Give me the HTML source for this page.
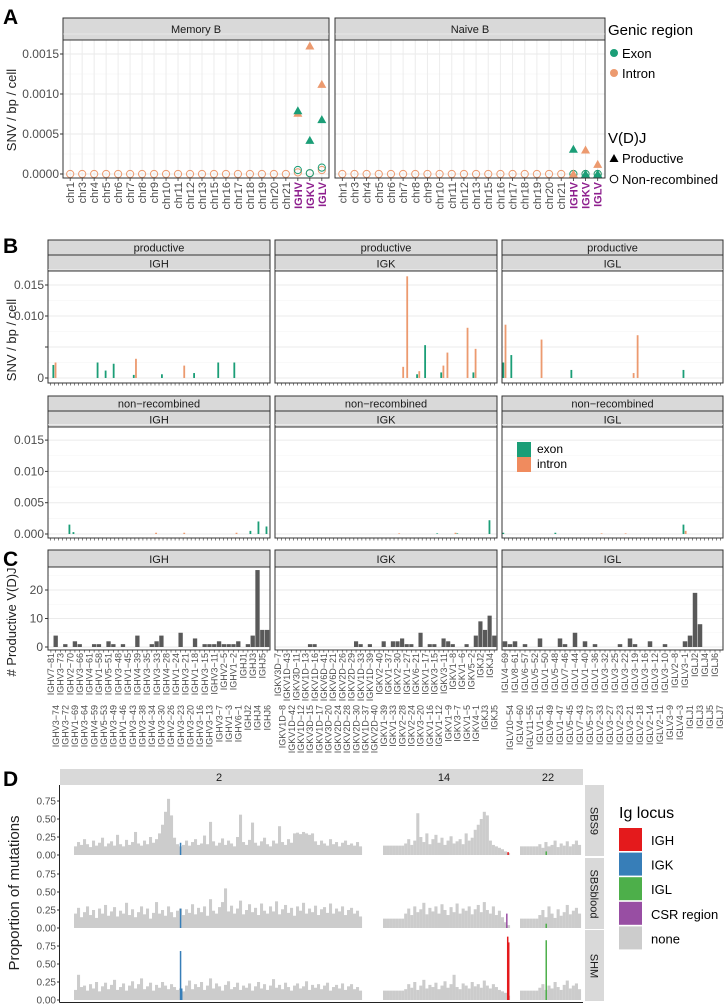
<!DOCTYPE html>
<html><head><meta charset="utf-8"><style>
html,body{margin:0;padding:0;background:#fff;}
svg{display:block;font-family:"Liberation Sans",sans-serif;}
</style></head><body>
<svg id="fig" width="727" height="1006" viewBox="0 0 727 1006"></svg>
<script>
// ---------- Panel A data ----------
const aCats = ['chr1','chr3','chr4','chr5','chr6','chr7','chr8','chr9','chr10','chr11','chr12','chr13','chr15','chr16','chr17','chr18','chr19','chr20','chr21','IGHV','IGKV','IGLV'];
const aChrZero = [0,0,0,0,0,0,0,0,0,0,0,0,0,0,0,0,0,0,0];
const memProdExon = [0.00079,0.00042,0.00068];
const memProdIntron = [0.00076,0.0016,0.00112];
const memNonExon = [0.00005,0.00001,0.00008];
const memNonIntron = [0.00002,0.00001,0.00005];
const naiProdExon = [0.00031,0.0,0.0];
const naiProdIntron = [0.0,0.0003,0.00012];
const naiNonExon = [0,0,0];
const naiNonIntron = [0,0,0];
const aTicks = [0,0.0005,0.001,0.0015];
const aTickLabels = ['0.0000','0.0005','0.0010','0.0015'];

// ---------- Panel B data ----------
const bN = [55,55,55];
const bProdExonIdx = [[1,12,14,16,21,28,36,42,46],[35,37,41,49],[0,2,17,45]];
const bProdExonVal = [[0.0021,0.0025,0.0012,0.0023,0.0005,0.0006,0.0008,0.0025,0.0025],[0.0006,0.0053,0.0009,0.0009],[0.0025,0.0037,0.0013,0.0013]];
const bProdIntronIdx = [[1,21,33],[31,32,35,41,42,47,49],[0,9,32,33]];
const bProdIntronVal = [[0.0025,0.0031,0.002],[0.0018,0.0164,0.0011,0.002,0.0041,0.0081,0.0047],[0.0086,0.0062,0.0008,0.0069]];
const bNonExonIdx = [[5,6,50,52,54],[53,40,45],[45,0,13]];
const bNonExonVal = [[0.0015,0.0003,0.0005,0.002,0.0012],[0.0022,0.0001,0.0001],[0.0015,0.0002,0.0002]];
const bNonIntronIdx = [[26,33,46],[30,44],[45,24,30]];
const bNonIntronVal = [[0.0002,0.0002,0.0002],[0.0001,0.0002],[0.0005,0.0001,0.0001]];
const bTicks1 = [0,0.010,0.015];
const bTickLabels1 = ['0','0.010','0.015'];
const bTicks2 = [0,0.005,0.010,0.015];
const bTickLabels2 = ['0.000','0.005','0.010','0.015'];

// ---------- Panel C data ----------
const cIGHr1 = ['IGHV7−81','IGHV3−73','IGHV2−70','IGHV3−66','IGHV4−61','IGHV1−58','IGHV5−51','IGHV3−48','IGHV1−45','IGHV4−39','IGHV3−35','IGHV3−33','IGHV4−28','IGHV1−24','IGHV3−21','IGHV1−18','IGHV3−15','IGHV3−11','IGHV2−5','IGHV1−2','IGHJ1','IGHJ3','IGHJ5'];
const cIGHr2 = ['IGHV3−74','IGHV3−72','IGHV1−69','IGHV3−64','IGHV4−59','IGHV5−53','IGHV3−49','IGHV1−46','IGHV3−43','IGHV3−38','IGHV4−34','IGHV3−30','IGHV2−26','IGHV3−23','IGHV3−20','IGHV3−16','IGHV3−13','IGHV3−7','IGHV1−3','IGHV6−1','IGHJ2','IGHJ4','IGHJ6'];
const cIGKr1 = ['IGKV3D−7','IGKV1D−43','IGKV3D−11','IGKV1D−13','IGKV1D−16','IGKV6D−41','IGKV6D−21','IGKV2D−26','IGKV2D−29','IGKV1D−33','IGKV1D−39','IGKV2−40','IGKV1−37','IGKV2−30','IGKV1−27','IGKV6−21','IGKV1−17','IGKV3−15','IGKV3−11','IGKV1−8','IGKV1−6','IGKV5−2','IGKJ2','IGKJ4'];
const cIGKr2 = ['IGKV1D−8','IGKV1D−42','IGKV1D−12','IGKV3D−15','IGKV1D−17','IGKV3D−20','IGKV2D−24','IGKV2D−28','IGKV2D−30','IGKV1D−37','IGKV2D−40','IGKV1−39','IGKV1−33','IGKV2−28','IGKV2−24','IGKV3−20','IGKV1−16','IGKV1−12','IGKV1−9','IGKV3−7','IGKV1−5','IGKV4−1','IGKJ3','IGKJ5'];
const cIGLr1 = ['IGLV4−69','IGLV8−61','IGLV6−57','IGLV5−52','IGLV1−50','IGLV5−48','IGLV7−46','IGLV1−44','IGLV1−40','IGLV1−36','IGLV3−32','IGLV3−25','IGLV3−22','IGLV3−19','IGLV3−16','IGLV3−12','IGLV3−10','IGLV2−8','IGLV3−1','IGLJ2','IGLJ4','IGLJ6'];
const cIGLr2 = ['IGLV10−54','IGLV4−60','IGLV11−55','IGLV1−51','IGLV9−49','IGLV1−47','IGLV5−45','IGLV7−43','IGLV5−37','IGLV2−33','IGLV3−27','IGLV2−23','IGLV3−21','IGLV2−18','IGLV2−14','IGLV2−11','IGLV3−9','IGLV4−3','IGLJ1','IGLJ3','IGLJ5','IGLJ7'];
const cIGHidx = [1,3,5,6,9,10,12,13,15,18,21,22,23,27,30,32,33,34,35,36,37,38,39,41,42,43,44,45];
const cIGHval = [4,1,2,1,1,1,2,1,1,4,1,2,4,5,3,1,1,1,2,1,1,1,2,1,4,27,6,6];
const cIGKidx = [7,8,17,18,20,23,25,26,27,28,29,31,33,34,36,37,38,41,43,44,45,46,47];
const cIGKval = [1,1,2,1,1,2,2,2,3,1,1,5,1,1,3,2,1,1,4,9,6,11,4];
const cIGLidx = [0,1,2,4,7,11,12,14,16,18,23,25,26,29,32,36,37,38,39];
const cIGLval = [2,1,2,1,3,3,1,5,2,1,1,3,1,2,1,2,4,19,8];
const cTicks = [0,10,20];

// ---------- Panel D data ----------
const dRows = ['SBS9','SBSblood','SHM'];
const dChrs = ['2','14','22'];
const sbs9_2 = [0.12,0.18,0.14,0.22,0.15,0.11,0.2,0.13,0.17,0.24,0.12,0.16,0.19,0.13,0.28,0.15,0.12,0.21,0.14,0.18,0.32,0.16,0.13,0.2,0.15,0.25,0.17,0.22,0.3,0.42,0.6,0.78,0.55,0.24,0.15,0.12,0.14,0.2,0.13,0.18,0.22,0.14,0.16,0.27,0.15,0.46,0.19,0.13,0.17,0.23,0.14,0.2,0.16,0.12,0.25,0.56,0.18,0.14,0.21,0.45,0.17,0.13,0.19,0.24,0.15,0.12,0.2,0.16,0.4,0.18,0.14,0.22,0.17,0.3,0.31,0.29,0.32,0.3,0.28,0.3,0.19,0.14,0.2,0.16,0.13,0.22,0.15,0.18,0.12,0.17,0.2,0.14,0.16,0.13,0.18,0.12];
const sbs9_14 = [0.13,0.13,0.13,0.13,0.13,0.13,0.13,0.16,0.22,0.14,0.2,0.58,0.25,0.18,0.3,0.15,0.22,0.28,0.17,0.24,0.14,0.2,0.26,0.16,0.19,0.22,0.15,0.3,0.2,0.24,0.35,0.42,0.5,0.6,0.55,0.2,0.14,0.12,0.1,0.08,0.05,0.03];
const sbs9_22 = [0.12,0.12,0.12,0.12,0.12,0.12,0.15,0.1,0.18,0.12,0.14,0.2,0.11,0.16,0.13,0.19,0.12,0.15,0.2,0.14];
const blood_2 = [0.2,0.28,0.15,0.22,0.3,0.18,0.25,0.14,0.27,0.2,0.32,0.17,0.23,0.29,0.16,0.24,0.2,0.35,0.18,0.26,0.15,0.22,0.3,0.19,0.27,0.13,0.21,0.36,0.2,0.25,0.17,0.3,0.22,0.15,0.24,0.27,0.18,0.26,0.21,0.33,0.19,0.28,0.22,0.3,0.17,0.4,0.24,0.2,0.29,0.36,0.55,0.23,0.31,0.2,0.27,0.38,0.19,0.25,0.33,0.22,0.28,0.18,0.34,0.24,0.2,0.3,0.23,0.37,0.19,0.26,0.32,0.21,0.28,0.17,0.3,0.24,0.35,0.2,0.27,0.22,0.31,0.18,0.26,0.29,0.21,0.34,0.2,0.27,0.23,0.3,0.18,0.25,0.28,0.2,0.24,0.16];
const blood_14 = [0.13,0.13,0.13,0.13,0.13,0.13,0.13,0.2,0.27,0.18,0.3,0.22,0.26,0.35,0.19,0.28,0.23,0.3,0.2,0.33,0.25,0.18,0.29,0.22,0.34,0.2,0.27,0.24,0.3,0.19,0.26,0.32,0.22,0.36,0.25,0.2,0.3,0.18,0.24,0.15,0.08,0.04];
const blood_22 = [0.13,0.13,0.13,0.13,0.13,0.13,0.18,0.25,0.15,0.3,0.2,0.14,0.26,0.17,0.22,0.32,0.19,0.24,0.28,0.2];
const shm_2 = [0.14,0.35,0.18,0.2,0.13,0.22,0.16,0.25,0.12,0.19,0.24,0.15,0.21,0.28,0.14,0.18,0.23,0.13,0.2,0.26,0.16,0.22,0.3,0.15,0.19,0.24,0.13,0.21,0.17,0.25,0.2,0.15,0.22,0.18,0.14,0.16,0.12,0.2,0.27,0.15,0.22,0.18,0.25,0.14,0.2,0.3,0.16,0.23,0.19,0.13,0.21,0.26,0.15,0.18,0.24,0.14,0.2,0.17,0.23,0.13,0.19,0.25,0.16,0.22,0.14,0.2,0.29,0.17,0.21,0.15,0.24,0.18,0.13,0.2,0.23,0.16,0.19,0.26,0.14,0.21,0.17,0.22,0.15,0.2,0.24,0.13,0.18,0.21,0.16,0.23,0.14,0.19,0.22,0.15,0.18,0.13];
const shm_14 = [0.13,0.13,0.13,0.13,0.13,0.13,0.13,0.15,0.22,0.17,0.25,0.14,0.2,0.28,0.16,0.21,0.18,0.24,0.15,0.2,0.26,0.17,0.22,0.35,0.18,0.15,0.23,0.2,0.16,0.25,0.19,0.22,0.17,0.27,0.2,0.16,0.22,0.18,0.14,0.12,0.1,0.06];
const shm_22 = [0.13,0.13,0.13,0.13,0.13,0.13,0.17,0.22,0.14,0.2,0.16,0.25,0.18,0.14,0.21,0.27,0.16,0.2,0.23,0.15];
const lociRow = [0,0,0,1,1,1,2,2,2,2,2];
const lociChr = [0,1,2,0,1,2,0,0,1,1,2];
const lociPos = [0.37,0.985,0.43,0.37,0.975,0.43,0.37,0.374,0.982,0.99,0.43];
const lociVal = [0.17,0.04,0.05,0.27,0.2,0.06,0.68,0.16,0.88,0.8,0.83];
const lociType = ['IGK','IGH','IGL','IGK','CSR','IGL','IGK','IGK','IGH','IGH','IGL'];
const dTicks = [0,0.25,0.5,0.75];
const dTickLabels = ['0.00','0.25','0.50','0.75'];

// ---------- helpers ----------
const NS = 'http://www.w3.org/2000/svg';
const svg = document.getElementById('fig');
function add(tag, attrs, name, parent) {
  const el = document.createElementNS(NS, tag);
  for (const k in attrs) el.setAttribute(k, attrs[k]);
  
  
  (parent || svg).appendChild(el);
  return el;
}
function txt(x, y, s, size, name, opt) {
  opt = opt || {};
  const a = {x: x, y: y, 'font-size': size, fill: opt.fill || '#4d4d4d', 'text-anchor': opt.anchor || 'start'};
  if (opt.weight) a['font-weight'] = opt.weight;
  if (opt.rot !== undefined) a.transform = 'rotate(' + opt.rot + ' ' + x + ' ' + y + ')';
  const t = add('text', a, name);
  t.textContent = s;
  return t;
}
const EXON = '#1b9e77', INTRON = '#ec9a6f';

// ---------- Panel A ----------
txt(3, 24, 'A', 21, 'panel-label-a', {fill: '#000', weight: 'bold'});
txt(16, 110, 'SNV / bp / cell', 13, 'a-y-axis-title', {fill: '#222', anchor: 'middle', rot: -90});
const aPanels = [{l: 63, r: 329, name: 'Memory B'}, {l: 335, r: 605, name: 'Naive B'}];
const aTop = 40, aBot = 178;
function yA(v) { return 174 - v / 0.0005 * 40; }
aPanels.forEach(function (p, pi) {
  const step = (p.r - p.l) / (aCats.length - 1 + 1.2);
  function xA(i) { return p.l + (0.6 + i) * step; }
  add('rect', {x: p.l, y: 18, width: p.r - p.l, height: aTop - 18, fill: '#d9d9d9', stroke: '#333', 'stroke-width': 1}, 'a-strip-' + pi);
  txt((p.l + p.r) / 2, 33, p.name, 11, 'a-strip-label', {fill: '#1a1a1a', anchor: 'middle'});
  add('rect', {x: p.l, y: aTop, width: p.r - p.l, height: aBot - aTop, fill: '#fff'}, 'a-panel-bg');
  for (let v = 0.00025; v < 0.0018; v += 0.0005) add('line', {x1: p.l, x2: p.r, y1: yA(v), y2: yA(v), stroke: '#f3f3f3', 'stroke-width': 0.6}, 'a-minor-grid');
  aTicks.forEach(function (v) { add('line', {x1: p.l, x2: p.r, y1: yA(v), y2: yA(v), stroke: '#e8e8e8', 'stroke-width': 1}, 'a-major-grid'); });
  aCats.forEach(function (c, i) {
    add('line', {x1: xA(i), x2: xA(i), y1: aTop, y2: aBot, stroke: '#ececec', 'stroke-width': 1}, 'a-v-grid');
    add('line', {x1: xA(i), x2: xA(i), y1: aBot, y2: aBot + 3, stroke: '#333', 'stroke-width': 0.8}, 'a-x-tick');
    const ig = i >= 19;
    txt(xA(i) + 4, aBot + 4, c, 11, 'a-x-label', {anchor: 'end', rot: -90, fill: ig ? '#8e1f8e' : '#4d4d4d', weight: ig ? 'bold' : null});
  });
  aChrZero.forEach(function (v, i) {
    add('circle', {cx: xA(i), cy: yA(v), r: 3.6, fill: 'none', stroke: INTRON, 'stroke-width': 1}, 'a-point-nonrec-intron');
  });
  const pe = pi === 0 ? memProdExon : naiProdExon, pin = pi === 0 ? memProdIntron : naiProdIntron;
  const ne = pi === 0 ? memNonExon : naiNonExon, ni = pi === 0 ? memNonIntron : naiNonIntron;
  function tri(x, y, col, name) {
    add('path', {d: 'M' + (x - 4.5) + ' ' + (y + 3.5) + 'L' + (x + 4.5) + ' ' + (y + 3.5) + 'L' + x + ' ' + (y - 4.5) + 'Z', fill: col}, name);
  }
  for (let k = 0; k < 3; k++) {
    const x = xA(19 + k);
    add('circle', {cx: x, cy: yA(ni[k]), r: 3.6, fill: 'none', stroke: INTRON, 'stroke-width': 1}, 'a-point-nonrec-intron');
    add('circle', {cx: x, cy: yA(ne[k]), r: 3.6, fill: 'none', stroke: EXON, 'stroke-width': 1}, 'a-point-nonrec-exon');
    tri(x, yA(pin[k]), INTRON, 'a-point-prod-intron');
    tri(x, yA(pe[k]), EXON, 'a-point-prod-exon');
  }
  add('rect', {x: p.l, y: aTop, width: p.r - p.l, height: aBot - aTop, fill: 'none', stroke: '#333', 'stroke-width': 1}, 'a-panel-border');
  if (pi === 0) aTicks.forEach(function (v, k) {
    add('line', {x1: p.l - 3, x2: p.l, y1: yA(v), y2: yA(v), stroke: '#333'}, 'a-y-tick');
    txt(p.l - 4, yA(v) + 4, aTickLabels[k], 12, 'a-y-label', {anchor: 'end'});
  });
});
txt(608, 35, 'Genic region', 15, 'a-legend-title', {fill: '#000'});
add('circle', {cx: 614, cy: 53, r: 4, fill: EXON}, 'a-legend-exon-key');
txt(622, 58, 'Exon', 13, 'a-legend-exon', {fill: '#000'});
add('circle', {cx: 614, cy: 73, r: 4, fill: INTRON}, 'a-legend-intron-key');
txt(622, 78, 'Intron', 13, 'a-legend-intron', {fill: '#000'});
txt(608, 143, 'V(D)J', 15, 'a-legend-title-vdj', {fill: '#000'});
add('path', {d: 'M609.5 162L618.5 162L614 154Z', fill: '#000'}, 'a-legend-productive-key');
txt(622, 163, 'Productive', 13, 'a-legend-productive', {fill: '#000'});
add('circle', {cx: 614, cy: 179, r: 3.8, fill: 'none', stroke: '#000'}, 'a-legend-nonrec-key');
txt(622, 184, 'Non-recombined', 13, 'a-legend-nonrec', {fill: '#000'});

// ---------- Panel B ----------
txt(3, 253, 'B', 21, 'panel-label-b', {fill: '#000', weight: 'bold'});
txt(16, 340, 'SNV / bp / cell', 13, 'b-y-axis-title', {fill: '#222', anchor: 'middle', rot: -90});
const bX = [[48, 270], [275, 497], [502, 723]];
const bLoci = ['IGH', 'IGK', 'IGL'];
const bRowsCfg = [
  {s1: 240, s2: 255, top: 271, bot: 383, zero: 378, per: 31, lab: 'productive', ticks: bTicks1, labs: bTickLabels1, ei: bProdExonIdx, ev: bProdExonVal, ii: bProdIntronIdx, iv: bProdIntronVal},
  {s1: 396, s2: 411, top: 427, bot: 538, zero: 534, per: 31.3, lab: 'non−recombined', ticks: bTicks2, labs: bTickLabels2, ei: bNonExonIdx, ev: bNonExonVal, ii: bNonIntronIdx, iv: bNonIntronVal}
];
bRowsCfg.forEach(function (R, ri) {
  function yB(v) { return R.zero - v / 0.005 * R.per; }
  bX.forEach(function (px, pi) {
    const l = px[0], r = px[1], N = bN[pi];
    const step = (r - l) / (N - 1 + 1.2);
    function xB(i) { return l + (0.6 + i) * step; }
    add('rect', {x: l, y: R.s1, width: r - l, height: R.s2 - R.s1, fill: '#d9d9d9', stroke: '#333', 'stroke-width': 1}, 'b-strip-vdj');
    txt((l + r) / 2, R.s2 - 3.5, R.lab, 11, 'b-strip-vdj-label', {fill: '#1a1a1a', anchor: 'middle'});
    add('rect', {x: l, y: R.s2, width: r - l, height: R.top - R.s2, fill: '#d9d9d9', stroke: '#333', 'stroke-width': 1}, 'b-strip-locus');
    txt((l + r) / 2, R.top - 3.5, bLoci[pi], 11, 'b-strip-locus-label', {fill: '#1a1a1a', anchor: 'middle'});
    for (let v = 0.0025; v < 0.018; v += 0.005) add('line', {x1: l, x2: r, y1: yB(v), y2: yB(v), stroke: '#f4f4f4', 'stroke-width': 0.6}, 'b-minor-grid');
    [0, 0.005, 0.01, 0.015].forEach(function (v) { add('line', {x1: l, x2: r, y1: yB(v), y2: yB(v), stroke: '#ebebeb'}, 'b-major-grid'); });
    R.ei[pi].forEach(function (ix, k) {
      const v = R.ev[pi][k];
      add('rect', {x: xB(ix) - 2, y: yB(v), width: 1.8, height: yB(0) - yB(v), fill: EXON}, 'b-bar-exon');
    });
    R.ii[pi].forEach(function (ix, k) {
      const v = R.iv[pi][k];
      add('rect', {x: xB(ix) + 0.2, y: yB(v), width: 1.8, height: yB(0) - yB(v), fill: INTRON}, 'b-bar-intron');
    });
    for (let i = 0; i < N; i++) add('line', {x1: xB(i), x2: xB(i), y1: R.bot, y2: R.bot + 2.5, stroke: '#333', 'stroke-width': 0.6}, 'b-x-tick');
    add('rect', {x: l, y: R.top, width: r - l, height: R.bot - R.top, fill: 'none', stroke: '#333', 'stroke-width': 1}, 'b-panel-border');
    if (pi === 0) {
      [0, 0.005, 0.01, 0.015].forEach(function (v) {
        add('line', {x1: l - 3, x2: l, y1: yB(v), y2: yB(v), stroke: '#333'}, 'b-y-tick');
      });
      R.ticks.forEach(function (v, k) {
        txt(l - 4, yB(v) + 4, R.labs[k], 12, 'b-y-label', {anchor: 'end'});
      });
    }
  });
});
add('rect', {x: 517, y: 442, width: 14, height: 15, fill: EXON}, 'b-legend-exon-key');
add('rect', {x: 517, y: 457, width: 14, height: 15, fill: '#f08b5e'}, 'b-legend-intron-key');
txt(537, 453, 'exon', 12, 'b-legend-exon', {fill: '#000'});
txt(537, 468, 'intron', 12, 'b-legend-intron', {fill: '#000'});

// ---------- Panel C ----------
txt(3, 566, 'C', 21, 'panel-label-c', {fill: '#000', weight: 'bold'});
txt(16, 622, '# Productive V(D)J', 13, 'c-y-axis-title', {fill: '#222', anchor: 'middle', rot: -90});
const cCfg = [
  {l: 48, r: 270, r1: cIGHr1, r2: cIGHr2, idx: cIGHidx, val: cIGHval, name: 'IGH'},
  {l: 275, r: 497, r1: cIGKr1, r2: cIGKr2, idx: cIGKidx, val: cIGKval, name: 'IGK'},
  {l: 502, r: 723, r1: cIGLr1, r2: cIGLr2, idx: cIGLidx, val: cIGLval, name: 'IGL'}
];
const cTop = 567, cBot = 650;
function yC(v) { return 647 - v * 2.85; }
cCfg.forEach(function (P, pi) {
  const labels = [];
  for (let i = 0; i < Math.max(P.r1.length, P.r2.length); i++) {
    if (i < P.r1.length) labels.push([P.r1[i], 0]);
    if (i < P.r2.length) labels.push([P.r2[i], 1]);
  }
  const N = labels.length;
  const step = (P.r - P.l) / (N - 1 + 1.2);
  function xC(i) { return P.l + (0.6 + i) * step; }
  add('rect', {x: P.l, y: 550, width: P.r - P.l, height: cTop - 550, fill: '#d9d9d9', stroke: '#333', 'stroke-width': 1}, 'c-strip');
  txt((P.l + P.r) / 2, cTop - 4, P.name, 11, 'c-strip-label', {fill: '#1a1a1a', anchor: 'middle'});
  [5, 15, 25].forEach(function (v) { add('line', {x1: P.l, x2: P.r, y1: yC(v), y2: yC(v), stroke: '#f4f4f4', 'stroke-width': 0.6}, 'c-minor-grid'); });
  cTicks.forEach(function (v) { add('line', {x1: P.l, x2: P.r, y1: yC(v), y2: yC(v), stroke: '#ebebeb'}, 'c-major-grid'); });
  P.idx.forEach(function (ix, k) {
    const v = P.val[k];
    add('rect', {x: xC(ix) - step * 0.45, y: yC(v), width: step * 0.9, height: yC(0) - yC(v), fill: '#595959'}, 'c-bar');
  });
  labels.forEach(function (lb, i) {
    add('line', {x1: xC(i), x2: xC(i), y1: cBot, y2: cBot + 2.5, stroke: '#333', 'stroke-width': 0.6}, 'c-x-tick');
    txt(xC(i) + 3.2, lb[1] === 0 ? cBot + 3 : 705, lb[0], 9, 'c-x-label', {anchor: 'end', rot: -90});
  });
  add('rect', {x: P.l, y: cTop, width: P.r - P.l, height: cBot - cTop, fill: 'none', stroke: '#333', 'stroke-width': 1}, 'c-panel-border');
  if (pi === 0) cTicks.forEach(function (v) {
    add('line', {x1: P.l - 3, x2: P.l, y1: yC(v), y2: yC(v), stroke: '#333'}, 'c-y-tick');
    txt(P.l - 5, yC(v) + 4, String(v), 12, 'c-y-label', {anchor: 'end'});
  });
});

// ---------- Panel D ----------
txt(3, 786, 'D', 21, 'panel-label-d', {fill: '#000', weight: 'bold'});
txt(19, 893, 'Proportion of mutations', 15, 'd-y-axis-title', {fill: '#222', anchor: 'middle', rot: -90});
const dL = 60, dR = 583;
add('rect', {x: dL, y: 769, width: dR - dL, height: 16, fill: '#d9d9d9'}, 'd-strip-chr');
txt(219, 781, '2', 11, 'd-strip-label-2', {fill: '#1a1a1a', anchor: 'middle'});
txt(444, 781, '14', 11, 'd-strip-label-14', {fill: '#1a1a1a', anchor: 'middle'});
txt(548, 781, '22', 11, 'd-strip-label-22', {fill: '#1a1a1a', anchor: 'middle'});
const dChrX = [[74, 362], [383, 510], [520, 581]];
const dSeries = [[sbs9_2, sbs9_14, sbs9_22], [blood_2, blood_14, blood_22], [shm_2, shm_14, shm_22]];
const lociColor = {IGH: '#e41a1c', IGK: '#377eb8', IGL: '#4daf4a', CSR: '#984ea3'};
const dRowTop = [785, 858, 930], dRowBot = [857, 930, 1002];
dRows.forEach(function (rn, ri) {
  const zero = dRowBot[ri] - 2;
  function yD(v) { return zero - v * 72; }
  dSeries[ri].forEach(function (arr, ci) {
    const x0 = dChrX[ci][0], x1 = dChrX[ci][1];
    const w = (x1 - x0) / arr.length;
    arr.forEach(function (v, i) {
      add('rect', {x: x0 + i * w, y: yD(v), width: w + 0.05, height: yD(0) - yD(v), fill: '#cccccc'}, 'd-bar-none');
    });
  });
  lociRow.forEach(function (r, k) {
    if (r !== ri) return;
    const c = dChrX[lociChr[k]];
    const x = c[0] + lociPos[k] * (c[1] - c[0]);
    add('rect', {x: x - 0.75, y: yD(lociVal[k]), width: 1.5, height: yD(0) - yD(lociVal[k]), fill: lociColor[lociType[k]]}, 'd-bar-' + lociType[k].toLowerCase());
  });
  dTicks.forEach(function (v, k) {
    add('line', {x1: dL - 3, x2: dL, y1: yD(v), y2: yD(v), stroke: '#333'}, 'd-y-tick');
    txt(dL - 4, yD(v) + 3.5, dTickLabels[k], 10, 'd-y-label', {anchor: 'end'});
  });
  add('rect', {x: 585, y: dRowTop[ri], width: 19, height: dRowBot[ri] - dRowTop[ri] - 1, fill: '#d9d9d9'}, 'd-strip-signature');
  const cy = (dRowTop[ri] + dRowBot[ri]) / 2;
  txt(590.5, cy, rn, 11, 'd-strip-signature-label', {fill: '#1a1a1a', anchor: 'middle', rot: 90});
});
add('line', {x1: dL - 0.5, x2: dL - 0.5, y1: 785, y2: 1002.5, stroke: '#222', 'stroke-width': 1}, 'd-y-axis-line');
add('line', {x1: dL - 0.5, x2: dR, y1: 1002.5, y2: 1002.5, stroke: '#222', 'stroke-width': 1}, 'd-x-axis-line');
txt(619, 818, 'Ig locus', 16, 'd-legend-title', {fill: '#000'});
const legKeys = ['IGH', 'IGK', 'IGL', 'CSR region', 'none'];
const legCols = ['#e41a1c', '#377eb8', '#4daf4a', '#984ea3', '#cccccc'];
legKeys.forEach(function (k, i) {
  add('rect', {x: 619, y: 828 + i * 24.6, width: 23, height: 23, fill: legCols[i]}, 'd-legend-key');
  txt(651, 845 + i * 24.6, k, 13, 'd-legend-entry', {fill: '#000'});
});
</script>
</body></html>
